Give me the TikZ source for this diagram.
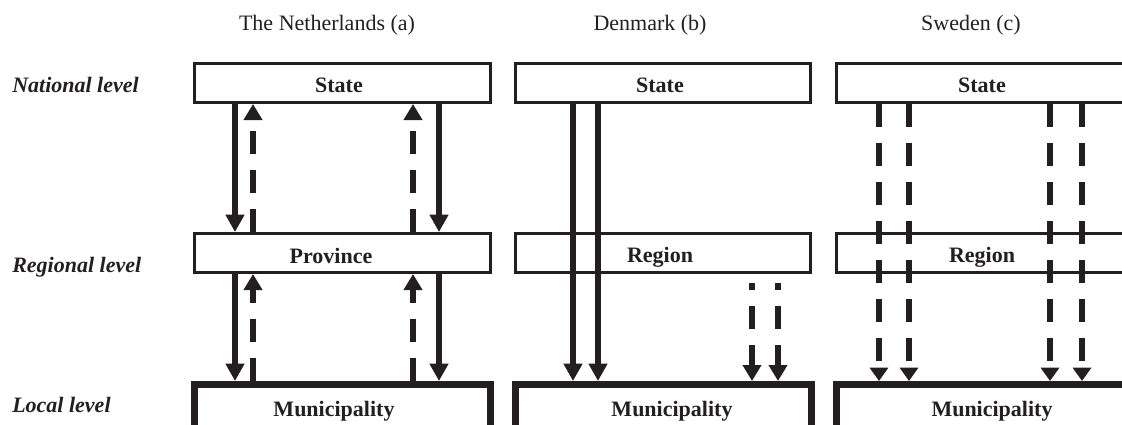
\documentclass[tikz,border=0pt]{standalone}
\usepackage{fontspec}
\setmainfont{Liberation Serif}
\usetikzlibrary{arrows.meta,calc}
\definecolor{ink}{RGB}{35,31,32}
\begin{document}
\begin{tikzpicture}[x=0.75pt,y=-0.75pt,
  lvfont/.style={font=\fontsize{16.5}{19}\selectfont},
  box/.style={draw=ink, line width=2.25pt, fill=white, inner sep=0pt,
    minimum width=222pt, minimum height=29.25pt},
  munbox/.style={box, line width=5.25pt, minimum height=36.75pt},
  boxtext/.style={font=\fontsize{16.5}{19}\selectfont\bfseries, text=ink, inner sep=0pt, anchor=base},
  title/.style={lvfont, text=ink, inner sep=0pt},
  level/.style={font=\fontsize{16.5}{19}\selectfont\bfseries\itshape, text=ink, inner sep=0pt, anchor=base west},
  solidarr/.style={draw=ink, line width=4.1pt, -{Triangle[width=13.5pt,length=13pt]}},
  dasharr/.style={draw=ink, line width=4.9pt, dash pattern=on 17.25pt off 12pt, -{Triangle[width=13.5pt,length=12pt]}},
  dasharrs/.style={dasharr, -{Triangle[width=13.5pt,length=10pt]}}
]
\useasboundingbox (0,0) rectangle (1122,425);

% titles
\node[title] (tNL) at (327,25) {The Netherlands (a)};
\node[title] (tDK) at (650,25) {Denmark (b)};
\node[title] (tSE) at (971,25) {Sweden (c)};

% level labels
\node[level] (lN) at (12,92) {National level};
\node[level] (lR) at (12,272) {Regional level};
\node[level] (lL) at (12,412) {Local level};

% Netherlands
\node[box] (nlS) at (342.5,83) {};
\node[box] (nlP) at (342.5,253) {};
\node[munbox] (nlM) at (342.5,409) {};
\node[boxtext] (nlSt) at (339,92) {State};
\node[boxtext] (nlPt) at (331,263) {Province};
\node[boxtext] (nlMt) at (334,416) {Municipality};

% Denmark
\node[box, minimum width=221.25pt] (dkS) at (663,83) {};
\node[box, minimum width=221.25pt] (dkR) at (663,253) {};
\node[munbox] (dkM) at (663.5,409) {};
\node[boxtext] (dkSt) at (660,92) {State};
\node[boxtext] (dkRt) at (660,262) {Region};
\node[boxtext] (dkMt) at (672,416) {Municipality};

% Sweden
\node[box] (seS) at (984.5,83) {};
\node[box] (seR) at (984.5,253) {};
\node[munbox] (seM) at (984.5,409) {};
\node[boxtext] (seSt) at (982,92) {State};
\node[boxtext] (seRt) at (982,262) {Region};
\node[boxtext] (seMt) at (992,416) {Municipality};

% x positions
\coordinate (a1) at (235,0);
\coordinate (a2) at (253,0);
\coordinate (a3) at (413,0);
\coordinate (a4) at (439,0);
\coordinate (b1) at (573,0);
\coordinate (b2) at (598,0);
\coordinate (b3) at (752,0);
\coordinate (b4) at (778,0);
\coordinate (c1) at (879,0);
\coordinate (c2) at (909,0);
\coordinate (c3) at (1050,0);
\coordinate (c4) at (1082,0);

% Netherlands arrows
\draw[solidarr] (nlS.south -| a1) -- (nlP.north -| a1);
\draw[dasharr] (nlP.north -| a2) -- (nlS.south -| a2);
\draw[dasharr] (nlP.north -| a3) -- (nlS.south -| a3);
\draw[solidarr] (nlS.south -| a4) -- (nlP.north -| a4);
\draw[solidarr] (nlP.south -| a1) -- (nlM.north -| a1);
\draw[dasharr] (nlM.north -| a2) -- (nlP.south -| a2);
\draw[dasharr] (nlM.north -| a3) -- (nlP.south -| a3);
\draw[solidarr] (nlP.south -| a4) -- (nlM.north -| a4);

% Denmark arrows
\draw[solidarr] (dkS.south -| b1) -- (dkM.north -| b1);
\draw[solidarr] (dkS.south -| b2) -- (dkM.north -| b2);
\coordinate (d3) at ($(dkR.south -| b3)+(0,9)$);
\coordinate (d4) at ($(dkR.south -| b4)+(0,9)$);
\draw[dasharr, dash phase=12pt] (d3) -- (dkM.north -| b3);
\draw[dasharr, dash phase=12pt] (d4) -- (dkM.north -| b4);

% Sweden arrows
\draw[dasharrs] (seS.south -| c1) -- (seM.north -| c1);
\draw[dasharrs] (seS.south -| c2) -- (seM.north -| c2);
\draw[dasharrs] (seS.south -| c3) -- (seM.north -| c3);
\draw[dasharrs] (seS.south -| c4) -- (seM.north -| c4);
\end{tikzpicture}
\end{document}
